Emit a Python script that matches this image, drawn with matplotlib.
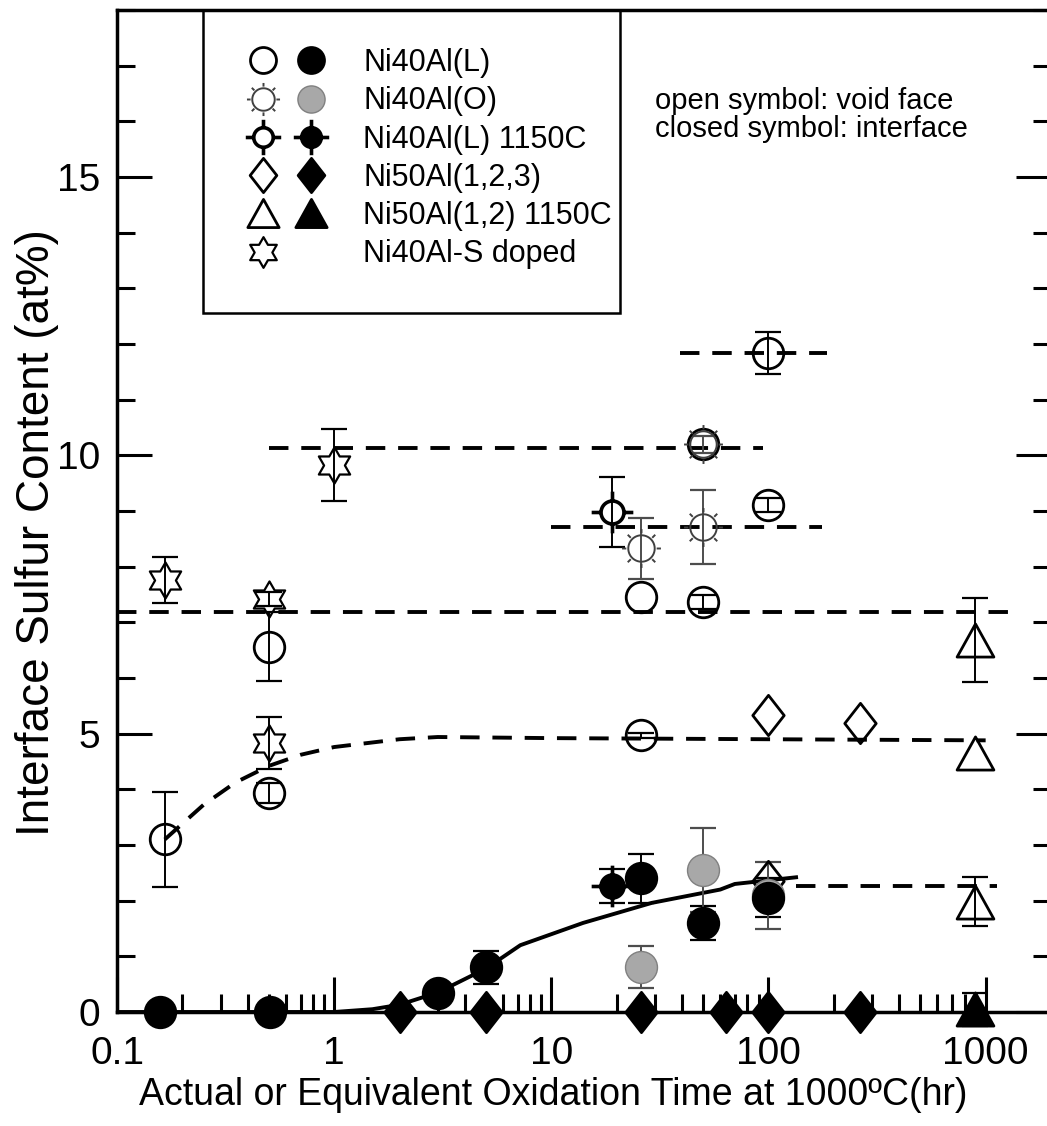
import numpy as np
import matplotlib
matplotlib.use('Agg')
import matplotlib.pyplot as plt
from matplotlib.path import Path
from matplotlib.lines import Line2D
from matplotlib.patches import Rectangle
from matplotlib.legend_handler import HandlerTuple
from matplotlib.ticker import FixedLocator, FixedFormatter, MultipleLocator, NullFormatter

plt.rcParams['font.family'] = ['Liberation Sans', 'DejaVu Sans']

# ---- void face (open symbols) ----
l_open_x = [0.166, 0.5, 0.5, 26, 26, 50, 50, 100, 100]
l_open_y = [3.1, 3.93, 6.56, 7.46, 4.97, 7.37, 10.2, 9.11, 11.84]
l_open_err = [0.85, 0.18, 0.62, 0.0, 0.05, 0.13, 0.0, 0.12, 0.37]

o_open_x = [26, 50, 50]
o_open_y = [8.33, 8.71, 10.2]
o_open_err = [0.55, 0.67, 0.15]

hot_open_x = [19]
hot_open_y = [8.98]
hot_open_err = [0.63]

ni50_open_x = [100, 263, 100]
ni50_open_y = [5.33, 5.19, 2.35]

ni50hot_open_x = [889, 889, 889]
ni50hot_open_y = [6.68, 4.65, 1.98]
ni50hot_open_err = [0.75, 0.0, 0.44]

sdoped_x = [0.166, 0.5, 0.5, 1.0]
sdoped_y = [7.76, 7.42, 4.83, 9.83]
sdoped_err = [0.41, 0.12, 0.47, 0.65]

# ---- interface (closed symbols) ----
l_fill_x = [0.158, 0.506, 3.0, 5.0, 26, 50, 100]
l_fill_y = [0, 0, 0.35, 0.8, 2.40, 1.6, 2.05]
l_fill_err = [0, 0, 0.13, 0.3, 0.44, 0.3, 0.35]

o_fill_x = [26, 50, 100]
o_fill_y = [0.81, 2.55, 2.1]
o_fill_err = [0.38, 0.75, 0.6]

hot_fill_x = [19]
hot_fill_y = [2.26]
hot_fill_err = [0.3]

ni50_fill_x = [2, 5, 26, 64, 100, 263]
ni50_fill_y = [0, 0, 0, 0, 0, 0]

ni50hot_fill_x = [889]
ni50hot_fill_y = [0.05]
ni50hot_fill_err = [0.3]

# ---- guide lines ----
level_y = [7.18, 10.13, 8.71, 11.84, 2.27]
level_start = [0.1, 0.5, 10, 39, 134]
level_end = [1300, 94, 176, 186, 1130]

void_curve_x = [0.166, 0.25, 0.35, 0.5, 0.7, 1, 2, 3, 10, 100, 1000]
void_curve_y = [3.1, 3.72, 4.12, 4.42, 4.62, 4.76, 4.9, 4.94, 4.92, 4.9, 4.88]

intf_curve_x = [0.1, 1, 1.5, 2, 3, 5, 7.2, 14, 29, 60, 70, 134]
intf_curve_y = [0, 0, 0.05, 0.13, 0.35, 0.78, 1.2, 1.6, 1.96, 2.2, 2.3, 2.42]

labels = ['Ni40Al(L)', 'Ni40Al(O)', 'Ni40Al(L) 1150C', 'Ni50Al(1,2,3)',
          'Ni50Al(1,2) 1150C', 'Ni40Al-S doped']


def ring(r, n=48):
    t = np.linspace(0, 2 * np.pi, n)
    return np.column_stack([r * np.cos(t), r * np.sin(t)])


def closed(pts):
    pts = list(pts)
    return pts + [pts[0]], [Path.MOVETO] + [Path.LINETO] * (len(pts) - 1) + [Path.CLOSEPOLY]


def rays(r0, r1, angles):
    v, c = [], []
    for a in angles:
        d = np.array([np.cos(np.radians(a)), np.sin(np.radians(a))])
        v += [r0 * d, r1 * d]
        c += [Path.MOVETO, Path.LINETO]
    return v, c


def cross_circle():
    v, c = closed(ring(0.55)[:-1])
    rv, rc = rays(0.55, 1.0, [0, 90, 180, 270])
    return Path(v + rv, c + rc)


def sun():
    v, c = closed(ring(0.68)[:-1])
    rv, rc = rays(0.78, 1.0, range(0, 360, 45))
    return Path(v + rv, c + rc)


def hexagram():
    pts = []
    for k in range(12):
        a = np.radians(90 + 30 * k)
        r = 1.0 if k % 2 == 0 else 0.577
        pts.append((r * np.cos(a), r * np.sin(a)))
    v, c = closed(pts)
    return Path(v, c)


DIAMOND = Path(*closed([(0, 1), (0.78, 0), (0, -1), (-0.78, 0)]))
TRIANGLE = Path(*closed([(-1, -0.9), (1, -0.9), (0, 0.9)]))
CROSS = cross_circle()
SUN = sun()
STAR = hexagram()

fig = plt.figure(figsize=(10.47, 11.26), dpi=100)
ax = fig.add_axes([117 / 1047, 114 / 1126, 934 / 1047, 1002 / 1126])

# guide lines
dash = (5, 3.3)
for y0, xs, xe in zip(level_y, level_start, level_end):
    ax.plot([xs, xe], [y0, y0], color='k', lw=2.8, dashes=dash, zorder=2)
ax.plot(void_curve_x, void_curve_y, color='k', lw=2.8, dashes=dash, zorder=2)
ax.plot(intf_curve_x, intf_curve_y, color='k', lw=2.8, zorder=2)


def ebar(x, y, e, color='k'):
    x, y, e = np.asarray(x, float), np.asarray(y, float), np.asarray(e, float)
    m = e > 0
    if m.any():
        ax.errorbar(x[m], y[m], yerr=e[m], fmt='none', ecolor=color, elinewidth=1.4,
                    capsize=9.5, capthick=1.6, zorder=3, clip_on=False)


def pts(x, y, **kw):
    ax.plot(x, y, ls='none', zorder=4, clip_on=False, **kw)


ebar(l_open_x, l_open_y, l_open_err)
ebar(o_open_x, o_open_y, o_open_err, color='0.3')
ebar(hot_open_x, hot_open_y, hot_open_err)
ebar(ni50hot_open_x, ni50hot_open_y, ni50hot_open_err)
ebar(sdoped_x, sdoped_y, sdoped_err)
ebar(l_fill_x, l_fill_y, l_fill_err)
ebar(o_fill_x, o_fill_y, o_fill_err, color='0.3')
ebar(hot_fill_x, hot_fill_y, hot_fill_err)
ebar(ni50hot_fill_x, ni50hot_fill_y, ni50hot_fill_err)

st_lopen = dict(marker='o', ms=22, mfc='none', mec='k', mew=2.0)
st_lfill = dict(marker='o', ms=22, mfc='k', mec='k', mew=2.0)
st_oopen = dict(marker=SUN, ms=28, mfc='none', mec='0.25', mew=1.4)
st_ofill = dict(marker='o', ms=23, mfc='0.66', mec='0.5', mew=1.0)
st_hopen = dict(marker=CROSS, ms=30, mfc='none', mec='k', mew=2.6)
st_hfill = dict(marker=CROSS, ms=30, mfc='k', mec='k', mew=2.6)
st_dopen = dict(marker=DIAMOND, ms=29, mfc='none', mec='k', mew=2.0)
st_dfill = dict(marker=DIAMOND, ms=29, mfc='k', mec='k', mew=2.0)
st_topen = dict(marker=TRIANGLE, ms=26.5, mfc='none', mec='k', mew=2.0)
st_tfill = dict(marker=TRIANGLE, ms=26.5, mfc='k', mec='k', mew=2.0)
st_star = dict(marker=STAR, ms=26, mfc='none', mec='k', mew=1.6)

pts(l_open_x, l_open_y, **st_lopen)
pts(o_open_x, o_open_y, **st_oopen)
pts(hot_open_x, hot_open_y, **st_hopen)
pts(ni50_open_x, ni50_open_y, **st_dopen)
pts(ni50hot_open_x, ni50hot_open_y, **st_topen)
pts(sdoped_x, sdoped_y, **st_star)
pts(o_fill_x, o_fill_y, **st_ofill)
pts(l_fill_x, l_fill_y, **st_lfill)
pts(hot_fill_x, hot_fill_y, **st_hfill)
pts(ni50_fill_x, ni50_fill_y, **st_dfill)
pts(ni50hot_fill_x, ni50hot_fill_y, **st_tfill)

# axes
ax.set_xscale('log')
ax.set_xlim(0.1, 2000)
ax.set_ylim(0, 18)
ax.xaxis.set_major_locator(FixedLocator([0.1, 1, 10, 100, 1000]))
ax.xaxis.set_major_formatter(FixedFormatter(['0.1', '1', '10', '100', '1000']))
ax.xaxis.set_minor_locator(FixedLocator([m * 10.0 ** d for d in range(-1, 4) for m in range(2, 10)]))
ax.xaxis.set_minor_formatter(NullFormatter())
ax.yaxis.set_major_locator(FixedLocator([0, 5, 10, 15]))
ax.yaxis.set_minor_locator(MultipleLocator(1))
ax.tick_params(which='both', direction='in', width=2.2, top=False, right=True)
ax.tick_params(which='major', length=25)
ax.tick_params(which='minor', length=13)
ax.tick_params(axis='both', which='major', labelsize=28)
ax.tick_params(axis='x', pad=17)
ax.tick_params(axis='y', pad=12)
for s in ax.spines.values():
    s.set_linewidth(2.5)

ax.set_xlabel('Actual or Equivalent Oxidation Time at 1000ºC(hr)', fontsize=27)
ax.xaxis.set_label_coords(0.467, -0.083)
ax.xaxis.label.set_va('center')
ax.set_ylabel('Interface Sulfur Content (at%)', fontsize=33)
ax.yaxis.set_label_coords(-0.086, 0.478)
ax.yaxis.label.set_va('center')

ax.text(0.576, 0.895, 'open symbol: void face\nclosed symbol: interface',
        transform=ax.transAxes, fontsize=21, va='center', ha='left', linespacing=1.0)

# legend
def h(st):
    return Line2D([], [], ls='none', **st)

leg_scale = 0.85
def hs(st):
    d = dict(st)
    d['ms'] = st['ms'] * leg_scale
    return h(d)

blank = Line2D([], [], ls='none', marker='none')
handles = [(hs(st_lopen), hs(st_lfill)), (hs(st_oopen), hs(st_ofill)),
           (hs(st_hopen), hs(st_hfill)), (hs(st_dopen), hs(st_dfill)),
           (hs(st_topen), hs(st_tfill)), (hs(st_star), blank)]
leg = ax.legend(handles=handles, labels=labels,
                handler_map={tuple: HandlerTuple(ndivide=None, pad=0.13)},
                loc='upper left', bbox_to_anchor=(0.092, 1.0), borderaxespad=0,
                fontsize=22, handlelength=3.0, handletextpad=1.0, borderpad=1.25,
                labelspacing=0.27, frameon=False)
leg.set_zorder(5)
ax.add_patch(Rectangle((0.0921, 0.6976), 0.4464, 0.3024, transform=ax.transAxes,
                       fill=False, ec='k', lw=1.8, zorder=5, clip_on=False))

fig.savefig('out.png', dpi=100)
